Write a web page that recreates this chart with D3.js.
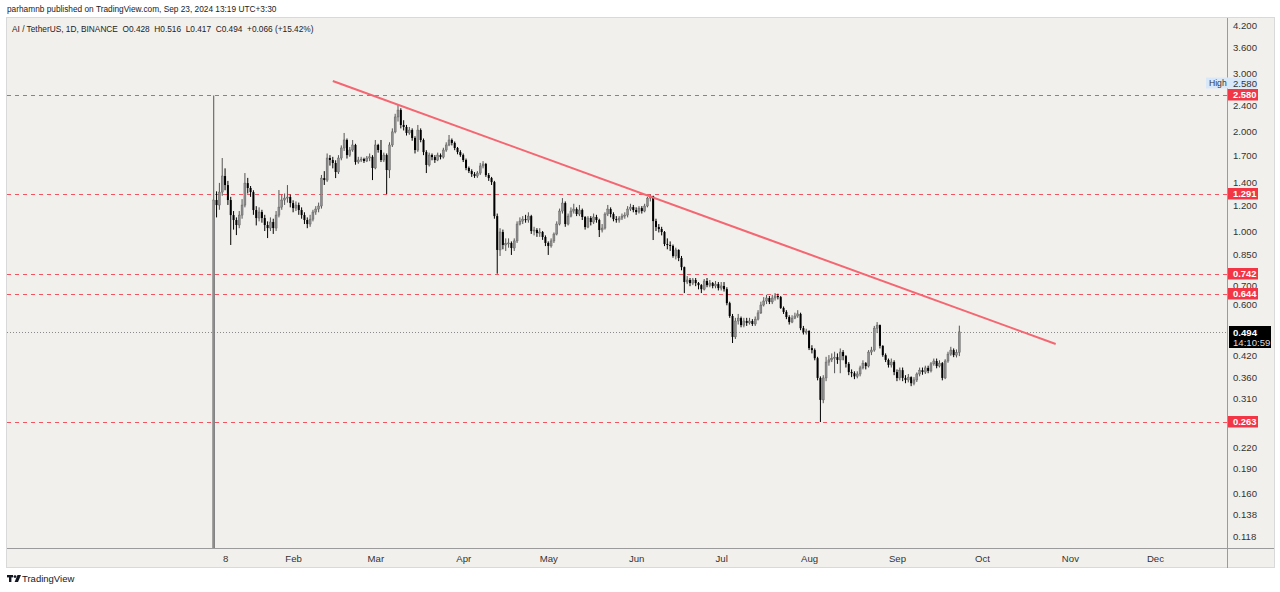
<!DOCTYPE html>
<html>
<head>
<meta charset="utf-8">
<script src="https://cdn.jsdelivr.net/npm/d3@7"></script>
<style>
  body { margin:0; background:#fff; }
  svg { font-family:"Liberation Sans", Arial, sans-serif; }
</style>
</head>
<body>
<svg id="chart" width="1280" height="592"></svg>
<script>
// AI / TetherUS daily candles, 4 Jan 2024 -> 23 Sep 2024 (one value per day)
const firstDay = Date.UTC(2024, 0, 4);
const firstOpen = 0.10;

const closes = [
  1.242,1.199,1.313,1.469,1.379,1.242,1.118,1.080,1.043,1.118,
  1.199,1.398,1.351,1.313,1.158,1.095,1.142,1.095,1.043,1.021,
  1.065,1.021,1.118,1.182,1.242,1.259,1.268,1.216,1.174,1.199,
  1.158,1.118,1.080,1.050,1.087,1.142,1.166,1.191,1.448,1.428,
  1.666,1.643,1.609,1.511,1.666,1.787,1.890,1.701,1.762,1.825,
  1.620,1.643,1.654,1.632,1.666,1.680,1.554,1.825,1.762,1.643,
  1.701,1.532,1.825,2.000,2.220,2.330,2.099,2.070,1.985,2.026,
  1.917,1.762,2.026,1.890,1.737,1.587,1.701,1.677,1.643,1.701,
  1.677,1.762,1.825,1.890,1.851,1.787,1.737,1.701,1.643,1.554,
  1.521,1.489,1.469,1.500,1.576,1.598,1.479,1.448,1.408,1.110,
  0.876,0.993,0.907,0.915,0.920,0.888,0.933,1.050,1.072,1.087,
  1.080,1.110,1.000,1.007,0.986,0.993,0.959,0.920,0.901,0.933,
  0.979,1.050,1.150,1.216,1.050,1.110,1.150,1.166,1.126,1.158,
  1.103,1.028,1.095,1.065,1.103,1.080,1.007,1.021,1.126,1.166,
  1.126,1.087,1.080,1.095,1.110,1.118,1.166,1.182,1.158,1.142,
  1.174,1.150,1.191,1.259,1.277,1.072,1.028,1.014,0.993,0.913,
  0.907,0.901,0.840,0.876,0.828,0.777,0.700,0.710,0.695,0.710,
  0.695,0.685,0.666,0.705,0.685,0.695,0.681,0.690,0.671,0.681,
  0.666,0.604,0.552,0.477,0.533,0.544,0.518,0.533,0.526,0.533,
  0.522,0.540,0.564,0.596,0.613,0.626,0.609,0.626,0.635,0.630,
  0.584,0.568,0.548,0.529,0.544,0.552,0.560,0.507,0.493,0.497,
  0.441,0.435,0.411,0.358,0.307,0.358,0.400,0.406,0.411,0.414,
  0.406,0.429,0.417,0.395,0.373,0.370,0.362,0.368,0.384,0.397,
  0.389,0.429,0.435,0.507,0.518,0.448,0.420,0.406,0.392,0.400,
  0.373,0.358,0.378,0.358,0.353,0.360,0.345,0.353,0.368,0.378,
  0.373,0.384,0.376,0.395,0.403,0.389,0.397,0.358,0.403,0.423,
  0.435,0.420,0.428,0.494
];

const highs = [
  2.580,1.320,1.400,1.666,1.550,1.420,1.270,1.150,1.100,1.150,
  1.250,1.500,1.450,1.370,1.330,1.190,1.180,1.160,1.120,1.070,
  1.100,1.090,1.150,1.332,1.290,1.300,1.379,1.290,1.240,1.230,
  1.220,1.180,1.140,1.100,1.120,1.160,1.190,1.220,1.480,1.520,
  1.720,1.700,1.680,1.640,1.700,1.820,1.985,1.910,1.800,1.890,
  1.840,1.680,1.680,1.670,1.690,1.720,1.700,1.890,1.840,1.890,
  1.730,1.720,1.860,2.050,2.270,2.413,2.360,2.170,2.100,2.070,
  2.050,1.940,2.099,2.050,1.910,1.760,1.730,1.720,1.700,1.730,
  1.720,1.790,1.860,1.957,1.910,1.870,1.800,1.760,1.720,1.660,
  1.570,1.540,1.510,1.520,1.610,1.630,1.610,1.500,1.460,1.420,
  1.130,1.020,1.010,0.950,0.950,0.930,0.950,1.070,1.100,1.110,
  1.120,1.140,1.120,1.030,1.020,1.020,1.000,0.970,0.930,0.950,
  0.990,1.070,1.170,1.259,1.230,1.130,1.180,1.210,1.180,1.200,
  1.170,1.110,1.110,1.110,1.130,1.120,1.090,1.050,1.140,1.200,
  1.180,1.140,1.110,1.110,1.130,1.140,1.190,1.210,1.200,1.180,
  1.190,1.190,1.210,1.270,1.291,1.280,1.090,1.050,1.030,1.000,
  0.950,0.930,0.910,0.890,0.880,0.840,0.780,0.730,0.720,0.720,
  0.720,0.700,0.690,0.715,0.720,0.710,0.700,0.705,0.700,0.700,
  0.700,0.675,0.610,0.560,0.545,0.560,0.550,0.545,0.545,0.545,
  0.540,0.550,0.575,0.610,0.630,0.640,0.635,0.640,0.648,0.645,
  0.635,0.590,0.575,0.555,0.555,0.565,0.575,0.565,0.515,0.505,
  0.500,0.450,0.440,0.415,0.362,0.365,0.415,0.420,0.425,0.430,
  0.425,0.440,0.435,0.420,0.400,0.380,0.375,0.375,0.390,0.405,
  0.400,0.435,0.445,0.515,0.529,0.520,0.450,0.425,0.410,0.410,
  0.405,0.380,0.385,0.385,0.365,0.368,0.362,0.360,0.372,0.385,
  0.385,0.390,0.390,0.400,0.410,0.410,0.405,0.400,0.408,0.430,
  0.445,0.440,0.437,0.516
];

const lows = [
  0.100,1.100,1.160,1.280,1.330,1.200,0.907,1.010,0.972,1.020,
  1.090,1.180,1.300,1.270,1.120,1.040,1.070,1.060,1.000,0.952,
  1.000,0.980,1.000,1.100,1.160,1.200,1.220,1.180,1.140,1.150,
  1.120,1.090,1.050,1.020,1.030,1.070,1.120,1.140,1.170,1.380,
  1.410,1.580,1.550,1.448,1.490,1.640,1.750,1.660,1.680,1.740,
  1.590,1.600,1.620,1.610,1.620,1.630,1.428,1.540,1.730,1.620,
  1.620,1.295,1.448,1.800,1.980,2.150,2.050,2.020,1.950,1.960,
  1.880,1.720,1.740,1.860,1.700,1.500,1.570,1.640,1.610,1.630,
  1.650,1.660,1.740,1.810,1.820,1.760,1.710,1.680,1.620,1.530,
  1.500,1.460,1.450,1.450,1.480,1.550,1.460,1.420,1.380,1.090,
  0.742,0.840,0.880,0.870,0.890,0.846,0.870,0.920,1.040,1.050,
  1.060,1.060,0.980,0.970,0.960,0.960,0.940,0.900,0.846,0.890,
  0.920,0.970,1.040,1.130,1.030,1.040,1.100,1.130,1.110,1.110,
  1.080,1.010,1.020,1.040,1.050,1.060,0.959,0.990,1.010,1.110,
  1.100,1.070,1.060,1.060,1.080,1.090,1.100,1.150,1.140,1.120,
  1.130,1.130,1.140,1.180,1.230,0.939,1.000,0.990,0.970,0.900,
  0.880,0.870,0.830,0.820,0.810,0.760,0.648,0.690,0.680,0.685,
  0.680,0.665,0.648,0.660,0.675,0.675,0.670,0.670,0.660,0.660,
  0.655,0.595,0.545,0.457,0.470,0.520,0.510,0.510,0.515,0.520,
  0.515,0.515,0.535,0.560,0.590,0.600,0.600,0.600,0.615,0.620,
  0.580,0.560,0.540,0.520,0.525,0.540,0.545,0.500,0.485,0.485,
  0.435,0.425,0.405,0.352,0.263,0.300,0.350,0.390,0.400,0.370,
  0.395,0.370,0.405,0.385,0.365,0.360,0.355,0.357,0.362,0.380,
  0.380,0.385,0.420,0.430,0.490,0.440,0.415,0.400,0.385,0.385,
  0.365,0.350,0.352,0.350,0.345,0.347,0.338,0.340,0.348,0.362,
  0.366,0.368,0.370,0.372,0.390,0.383,0.385,0.352,0.355,0.398,
  0.418,0.414,0.413,0.417
];

const levels = [2.580, 1.291, 0.742, 0.644, 0.263];
const allTimeHigh = 2.580;
const lastPrice = 0.494;
const countdown = '14:10:59';
const priceTicks = [4.2, 3.6, 3.0, 2.4, 2.0, 1.7, 1.4, 1.2, 1.0, 0.85, 0.7, 0.6,
                    0.42, 0.36, 0.31, 0.22, 0.19, 0.16, 0.138, 0.118];
const dateTicks = [[2024,0,8],[2024,1,1],[2024,2,1],[2024,3,1],[2024,4,1],[2024,5,1],
                   [2024,6,1],[2024,7,1],[2024,8,1],[2024,9,1],[2024,10,1],[2024,11,1]];
const trendLine = [{date:[2024,1,15], price:2.855}, {date:[2024,9,27], price:0.454}];

const headerText = 'parhamnb published on TradingView.com, Sep 23, 2024 13:19 UTC+3:30';
const legendText = 'AI / TetherUS, 1D, BINANCE  O0.428  H0.516  L0.417  C0.494  +0.066 (+15.42%)';

// ---- build candles
const DAY = 86400000;
const candles = closes.map((c, i) => ({
  date: new Date(firstDay + i * DAY),
  open: i === 0 ? firstOpen : closes[i - 1],
  high: highs[i], low: lows[i], close: c
}));

const plot = {left:7, right:1227, top:18, bottom:548};
const svg = d3.select('#chart');

const x = d3.scaleUtc()
  .domain([new Date(Date.UTC(2023, 9, 23, 2)), new Date(Date.UTC(2024, 11, 26, 10))])
  .range([plot.left, plot.right]);
const y = d3.scaleLog()
  .domain([0.109, 4.435])
  .range([plot.bottom, plot.top]);

// panel
svg.append('rect').attr('x', 6.5).attr('y', 17.5).attr('width', 1268).attr('height', 550)
  .attr('fill', '#f2f0ec').attr('stroke', '#d9d9d9');
svg.append('line').attr('x1', plot.right + 0.5).attr('x2', plot.right + 0.5).attr('y1', 18).attr('y2', 568)
  .attr('stroke', '#9b9b9b');
svg.append('line').attr('x1', 7).attr('x2', 1274).attr('y1', plot.bottom + 0.5).attr('y2', plot.bottom + 0.5)
  .attr('stroke', '#9b9b9b');

svg.append('text').attr('x', 7).attr('y', 12).attr('font-size', 8.3).attr('fill', '#222').text(headerText);
svg.append('text').attr('x', 12).attr('y', 32).attr('font-size', 8.3).attr('fill', '#222')
  .attr('xml:space', 'preserve').style('white-space', 'pre').text(legendText);

svg.append('clipPath').attr('id', 'plotClip').append('rect')
  .attr('x', plot.left).attr('y', plot.top).attr('width', plot.right - plot.left).attr('height', plot.bottom - plot.top);
const g = svg.append('g').attr('clip-path', 'url(#plotClip)');

// horizontal levels
g.selectAll('line.level').data(levels).join('line')
  .attr('class', 'level')
  .attr('x1', plot.left).attr('x2', plot.right)
  .attr('y1', d => Math.round(y(d)) + 0.5).attr('y2', d => Math.round(y(d)) + 0.5)
  .attr('stroke', '#f7525f').attr('stroke-dasharray', '4,4').attr('stroke-width', 1);

g.append('line')
  .attr('x1', plot.left).attr('x2', plot.right)
  .attr('y1', Math.round(y(lastPrice)) + 0.5).attr('y2', Math.round(y(lastPrice)) + 0.5)
  .attr('stroke', '#8a8a8a').attr('stroke-dasharray', '1,2');

// candles
const cg = g.append('g');
cg.selectAll('rect.wick').data(candles).join('rect')
  .attr('class', 'wick')
  .attr('x', d => x(d.date) - 0.5).attr('width', 1)
  .attr('y', d => y(d.high)).attr('height', d => Math.max(1, y(d.low) - y(d.high)))
  .attr('fill', d => d.close >= d.open ? '#555' : '#000');
cg.selectAll('rect.body').data(candles).join('rect')
  .attr('class', 'body')
  .attr('x', d => x(d.date) - 1).attr('width', 2)
  .attr('y', d => y(Math.max(d.open, d.close)))
  .attr('height', d => Math.max(1, Math.abs(y(d.open) - y(d.close))))
  .attr('fill', d => d.close >= d.open ? '#8e8e8e' : '#000')
  .attr('stroke', d => d.close >= d.open ? '#5a5a5a' : 'none').attr('stroke-width', 0.4);

// trend line
const toDate = a => new Date(Date.UTC(a[0], a[1], a[2]));
g.append('path')
  .datum(trendLine)
  .attr('d', d3.line().x(d => x(toDate(d.date))).y(d => y(d.price)))
  .attr('stroke', '#f46671').attr('stroke-width', 2).attr('fill', 'none');

// right price axis; ticks that sit under a level label are nudged below it
const nearLevel = v => levels.some(l => Math.abs(y(l) - y(v)) < 10 && y(v) > y(l));
const yAxis = svg.append('g').attr('transform', `translate(${plot.right},0)`)
  .call(d3.axisRight(y).tickValues(priceTicks).tickFormat(d3.format('.3f')).tickSize(0).tickPadding(6));
yAxis.select('.domain').remove();
yAxis.selectAll('text').attr('font-size', 9.6).attr('fill', '#333')
  .attr('font-family', '"Liberation Sans", Arial, sans-serif')
  .attr('y', d => nearLevel(d) ? 3 : 0);

// bottom time axis
const monthFmt = d3.utcFormat('%b');
const xAxis = svg.append('g').attr('transform', `translate(0,${plot.bottom})`)
  .call(d3.axisBottom(x).tickValues(dateTicks.map(toDate))
    .tickFormat(d => d.getUTCDate() === 1 ? monthFmt(d) : String(d.getUTCDate()))
    .tickSize(0).tickPadding(7));
xAxis.select('.domain').remove();
xAxis.selectAll('text').attr('font-size', 9.6).attr('fill', '#333').attr('font-family', '"Liberation Sans", Arial, sans-serif');

// "High" marker
const hy = y(allTimeHigh) - 12;
svg.append('rect').attr('x', 1206).attr('y', hy - 6).attr('width', 51).attr('height', 11).attr('fill', '#d9e8f8');
svg.append('text').attr('x', 1209).attr('y', hy + 3).attr('font-size', 8.6).attr('fill', '#333').text('High');
svg.append('text').attr('x', plot.right + 6).attr('y', hy + 3.5).attr('font-size', 9.6).attr('fill', '#333')
  .text(d3.format('.3f')(allTimeHigh));

// red level labels
const lab = svg.selectAll('g.lab').data(levels).join('g').attr('class', 'lab')
  .attr('transform', d => `translate(${plot.right + 1},${Math.round(y(d))})`);
lab.append('rect').attr('x', 0).attr('y', -6).attr('width', 30).attr('height', 11.5).attr('fill', '#f23645');
lab.append('text').attr('x', 5).attr('y', 3.3).attr('font-size', 9.4).attr('font-weight', 'bold')
  .attr('fill', '#fff').text(d => d3.format('.3f')(d));

// last price label
const ly = Math.round(y(lastPrice));
svg.append('rect').attr('x', plot.right + 2).attr('y', ly - 6).attr('width', 42).attr('height', 22).attr('fill', '#000');
svg.append('text').attr('x', plot.right + 6).attr('y', ly + 3.5).attr('font-size', 9.6).attr('font-weight', 'bold')
  .attr('fill', '#fff').text(d3.format('.3f')(lastPrice));
svg.append('text').attr('x', plot.right + 6).attr('y', ly + 13.5).attr('font-size', 9.6)
  .attr('fill', '#ddd').text(countdown);

// footer logo
const logo = svg.append('g').attr('transform', 'translate(7,575)').attr('fill', '#131722');
logo.append('rect').attr('x', 0).attr('y', 0).attr('width', 6).attr('height', 2.4);
logo.append('rect').attr('x', 2).attr('y', 0).attr('width', 2.4).attr('height', 7);
logo.append('circle').attr('cx', 8).attr('cy', 1.6).attr('r', 1.4);
logo.append('path').attr('d', 'M10.5,0 L14,0 L11,7 L7.6,7 Z');
svg.append('text').attr('x', 22).attr('y', 582).attr('font-size', 9.5).attr('fill', '#131722').text('TradingView');
</script>
</body>
</html>
